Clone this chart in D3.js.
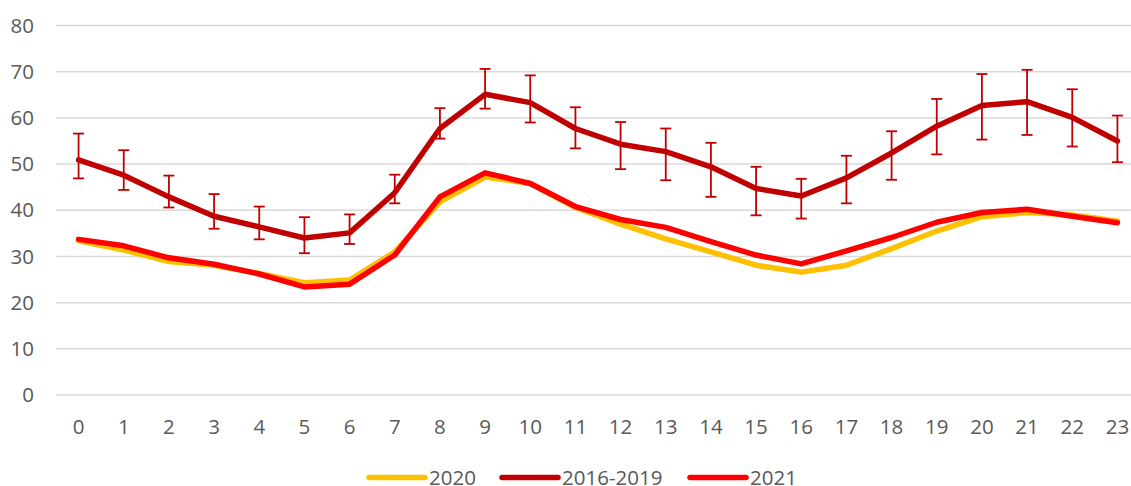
<!DOCTYPE html>
<html>
<head>
<meta charset="utf-8">
<script src="https://cdn.jsdelivr.net/npm/d3@7"></script>
<style>
    body { margin: 0; background: #fff; }
    svg text { font-family: "Open Sans", sans-serif; fill: #595959; }
</style>
</head>
<body>
<svg id="chart"></svg>
<script>
// hours on the x axis
const hours = d3.range(0, 24).map(String);

// 2016-2019 average with error bar bounds
const avg1619 = [50.9, 47.6, 42.9, 38.7, 36.4, 34.0, 35.1, 43.8, 57.7, 65.1, 63.3, 57.7,
    54.3, 52.7, 49.4, 44.7, 43.1, 47.0, 52.4, 58.2, 62.7, 63.5, 60.1, 55.0];
const errHigh = [56.6, 53.0, 47.5, 43.5, 40.8, 38.5, 39.1, 47.7, 62.1, 70.6, 69.2, 62.3,
    59.1, 57.7, 54.6, 49.4, 46.8, 51.8, 57.1, 64.1, 69.5, 70.4, 66.2, 60.5];
const errLow = [46.9, 44.4, 40.6, 36.0, 33.7, 30.7, 32.7, 41.5, 55.5, 62.0, 59.0, 53.4,
    48.9, 46.5, 42.9, 38.9, 38.2, 41.5, 46.6, 52.1, 55.3, 56.3, 53.8, 50.4];

const values2020 = [33.4, 31.4, 28.9, 28.1, 26.3, 24.3, 24.9, 31.0, 41.8, 47.2, 45.8, 40.6,
    37.0, 33.8, 31.0, 28.1, 26.6, 28.1, 31.7, 35.5, 38.6, 39.5, 39.0, 37.7];
const values2021 = [33.7, 32.3, 29.7, 28.3, 26.2, 23.4, 24.0, 30.3, 42.9, 48.1, 45.8, 40.8,
    38.0, 36.3, 33.2, 30.3, 28.4, 31.2, 34.1, 37.4, 39.5, 40.2, 38.7, 37.3];

const yTicks = [0, 10, 20, 30, 40, 50, 60, 70, 80];

const series = [
    { name: "2020", values: values2020, color: "#FFC000" },
    { name: "2016-2019", values: avg1619, color: "#C00000" },
    { name: "2021", values: values2021, color: "#FF0000" },
];

const width = 1131, height = 486;
const margin = { top: 25.5, right: -9, bottom: 91, left: 56 };
const fontSize = "20.5px";

const svg = d3.select("#chart").attr("width", width).attr("height", height);

const x = d3.scaleBand()
    .domain(hours)
    .range([margin.left, width - margin.right]);

const y = d3.scaleLinear()
    .domain([0, 80])
    .range([height - margin.bottom, margin.top]);

// gridlines
svg.append("g")
    .selectAll("line")
    .data(yTicks)
    .join("line")
    .attr("x1", margin.left)
    .attr("x2", width)
    .attr("y1", d => y(d))
    .attr("y2", d => y(d))
    .attr("stroke", "#d9d9d9")
    .attr("stroke-width", 1.5);

// y labels
svg.append("g")
    .selectAll("text")
    .data(yTicks)
    .join("text")
    .attr("x", 34)
    .attr("y", d => y(d))
    .attr("dy", "0.35em")
    .attr("text-anchor", "end")
    .style("font-size", fontSize)
    .text(d => d);

// x labels
svg.append("g")
    .selectAll("text")
    .data(hours)
    .join("text")
    .attr("x", d => x(d) + x.bandwidth() / 2)
    .attr("y", 427)
    .attr("dy", "0.35em")
    .attr("text-anchor", "middle")
    .style("font-size", fontSize)
    .text(d => d);

const cx = (d, i) => x(hours[i]) + x.bandwidth() / 2;

const line = d3.line()
    .x(cx)
    .y(d => y(d));

// error bars for 2016-2019
const errGroup = svg.append("g")
    .attr("stroke", "#C00000")
    .attr("stroke-width", 1.8);

hours.forEach((h, i) => {
    const px = cx(null, i);
    errGroup.append("line")
        .attr("x1", px).attr("x2", px)
        .attr("y1", y(errLow[i])).attr("y2", y(errHigh[i]));
    [errLow[i], errHigh[i]].forEach(v => {
        errGroup.append("line")
            .attr("x1", px - 5.5).attr("x2", px + 5.5)
            .attr("y1", y(v)).attr("y2", y(v));
    });
});

// lines
svg.append("g")
    .selectAll("path")
    .data(series)
    .join("path")
    .attr("d", d => line(d.values))
    .attr("fill", "none")
    .attr("stroke", d => d.color)
    .attr("stroke-width", 5.5)
    .attr("stroke-linejoin", "round")
    .attr("stroke-linecap", "round");

// legend
const legendX = [369, 502, 690];
const legend = svg.append("g")
    .selectAll("g")
    .data(series)
    .join("g")
    .attr("transform", (d, i) => `translate(${legendX[i]},477.5)`);

legend.append("line")
    .attr("x1", 0).attr("x2", 56)
    .attr("stroke", d => d.color)
    .attr("stroke-width", 5.5)
    .attr("stroke-linecap", "round");

legend.append("text")
    .attr("x", 60)
    .attr("dy", "0.35em")
    .style("font-size", fontSize)
    .text(d => d.name);
</script>
</body>
</html>
